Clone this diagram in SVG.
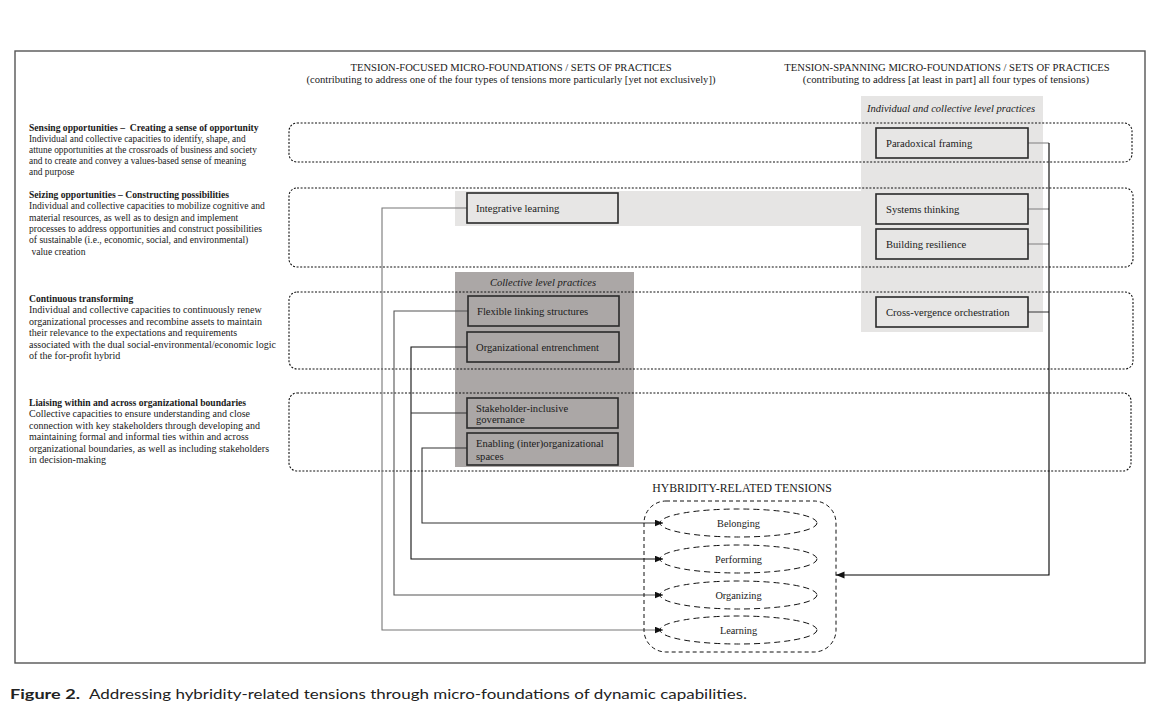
<svg xmlns="http://www.w3.org/2000/svg" width="1161" height="728" viewBox="0 0 1161 728">
<style>
text{font-family:"Liberation Serif","Times New Roman",serif;fill:#1a1a1a}
.lt{font-size:9.6px;white-space:pre}
.lt1{font-size:9.35px;white-space:pre}
.lt3{font-size:10px;white-space:pre}
.lb{font-size:9.6px;font-weight:bold;white-space:pre}
.hd{font-size:10.6px;text-anchor:middle}
.it{font-size:10.5px;font-style:italic;text-anchor:middle}
.bx{font-size:10.6px}
.band{fill:none;stroke:#111;stroke-width:1.1;stroke-dasharray:2 1.6}
.box{stroke:#2a2a2a;stroke-width:1.6}
.lbox{fill:#e7e6e5}
.dbox{fill:#aba7a6}
.ell{fill:none;stroke:#111;stroke-width:1;stroke-dasharray:6 4}
.tl{font-size:10.3px;text-anchor:middle}
.cn{fill:none;stroke-width:1.1}
.cap{font-family:"Lato","Open Sans","Liberation Sans",sans-serif;font-size:14px;fill:#222}
</style>
<defs>
<marker id="ah" markerWidth="9" markerHeight="8" refX="8.5" refY="3.5" orient="auto" markerUnits="userSpaceOnUse">
<path d="M0,0 L8.5,3.5 L0,7 z" fill="#111"/>
</marker>
</defs>
<rect x="0" y="0" width="1161" height="728" fill="#fff"/>
<rect id="frame" x="15" y="51" width="1130" height="612" fill="none" stroke="#555" stroke-width="1.4"/>

<g id="headers">
<text class="hd" x="511" y="71">TENSION-FOCUSED MICRO-FOUNDATIONS / SETS OF PRACTICES</text>
<text class="hd" x="511" y="83">(contributing to address one of the four types of tensions more particularly [yet not exclusively])</text>
<text class="hd" x="947" y="71">TENSION-SPANNING MICRO-FOUNDATIONS / SETS OF PRACTICES</text>
<text class="hd" x="946" y="83" style="font-size:10.8px">(contributing to address [at least in part] all four types of tensions)</text>
</g>

<g id="panels">
<rect id="panel-spanning" x="861" y="96" width="182" height="236" fill="#e6e5e4"/>
<rect id="strip-integrative" x="455" y="191" width="407" height="35" fill="#e6e5e4"/>
<rect id="panel-collective" x="455" y="272" width="179" height="195" fill="#aba7a6"/>
<text class="it" x="951" y="112">Individual and collective level practices</text>
<text class="it" x="543" y="286">Collective level practices</text>
</g>

<g id="row-sensing">
<rect class="band" x="289" y="123" width="843" height="39" rx="8"/>
<text class="lb" x="29" y="131">Sensing opportunities –  Creating a sense of opportunity</text>
<text class="lt1" x="29" y="142">Individual and collective capacities to identify, shape, and</text>
<text class="lt1" x="29" y="153">attune opportunities at the crossroads of business and society</text>
<text class="lt1" x="29" y="164">and to create and convey a values-based sense of meaning</text>
<text class="lt1" x="29" y="175">and purpose</text>
</g>

<g id="row-seizing">
<rect class="band" x="289" y="188" width="844" height="79" rx="8"/>
<text class="lb" x="29" y="198">Seizing opportunities – Constructing possibilities</text>
<text class="lt" x="29" y="209.3">Individual and collective capacities to mobilize cognitive and</text>
<text class="lt" x="29" y="220.6">material resources, as well as to design and implement</text>
<text class="lt" x="29" y="231.9">processes to address opportunities and construct possibilities</text>
<text class="lt" x="29" y="243.2">of sustainable (i.e., economic, social, and environmental)</text>
<text class="lt" x="29" y="254.5"> value creation</text>
</g>

<g id="row-transforming">
<rect class="band" x="289" y="292" width="844" height="77" rx="8"/>
<text class="lb" x="29" y="302">Continuous transforming</text>
<text class="lt3" x="29" y="313.4">Individual and collective capacities to continuously renew</text>
<text class="lt3" x="29" y="324.8">organizational processes and recombine assets to maintain</text>
<text class="lt3" x="29" y="336.2">their relevance to the expectations and requirements</text>
<text class="lt3" x="29" y="347.6">associated with the dual social-environmental/economic logic</text>
<text class="lt3" x="29" y="359">of the for-profit hybrid</text>
</g>

<g id="row-liaising">
<rect class="band" x="289" y="393" width="842" height="78" rx="8"/>
<text class="lb" x="29" y="406">Liaising within and across organizational boundaries</text>
<text class="lt3" x="29" y="417.4">Collective capacities to ensure understanding and close</text>
<text class="lt3" x="29" y="428.8">connection with key stakeholders through developing and</text>
<text class="lt3" x="29" y="440.2">maintaining formal and informal ties within and across</text>
<text class="lt3" x="29" y="451.6">organizational boundaries, as well as including stakeholders</text>
<text class="lt3" x="29" y="463">in decision-making</text>
</g>

<g id="connectors">
<path class="cn" stroke="#777" d="M467,208 H382 V630 H663" marker-end="url(#ah)"/>
<path class="cn" stroke="#555" d="M468,311 H394 V595 H663" marker-end="url(#ah)"/>
<path class="cn" stroke="#111" d="M468,347 H411 V559 H663" marker-end="url(#ah)"/>
<path class="cn" stroke="#333" d="M467,413 H411"/>
<path class="cn" stroke="#333" d="M467,448 H422 V523 H663" marker-end="url(#ah)"/>
<path class="cn" stroke="#888" d="M1028,143 H1049"/>
<path class="cn" stroke="#888" d="M1028,209 H1049"/>
<path class="cn" stroke="#888" d="M1028,244 H1049"/>
<path class="cn" stroke="#444" d="M1028,312 H1049"/>
<path class="cn" stroke="#000" stroke-width="1.3" d="M1049,143 V575 H836" marker-end="url(#ah)"/>
</g>

<g id="node-integrative-learning">
<rect class="box lbox" x="467" y="193" width="151" height="30"/>
<text class="bx" x="476" y="212">Integrative learning</text>
</g>
<g id="node-flexible-linking">
<rect class="box dbox" x="468" y="296" width="151" height="30"/>
<text class="bx" x="477" y="315">Flexible linking structures</text>
</g>
<g id="node-org-entrenchment">
<rect class="box dbox" x="467" y="332" width="152" height="30"/>
<text class="bx" x="476" y="351">Organizational entrenchment</text>
</g>
<g id="node-stakeholder-governance">
<rect class="box dbox" x="467" y="398" width="151" height="30"/>
<text class="bx" x="476" y="411.5">Stakeholder-inclusive</text>
<text class="bx" x="476" y="423">governance</text>
</g>
<g id="node-enabling-spaces">
<rect class="box dbox" x="467" y="433" width="151" height="32"/>
<text class="bx" x="476" y="447">Enabling (inter)organizational</text>
<text class="bx" x="476" y="459.5">spaces</text>
</g>

<g id="node-paradoxical-framing">
<rect class="box lbox" x="876" y="128" width="152" height="30"/>
<text class="bx" x="886" y="147">Paradoxical framing</text>
</g>
<g id="node-systems-thinking">
<rect class="box lbox" x="876" y="194" width="152" height="30"/>
<text class="bx" x="886" y="213">Systems thinking</text>
</g>
<g id="node-building-resilience">
<rect class="box lbox" x="876" y="229" width="152" height="30"/>
<text class="bx" x="886" y="248">Building resilience</text>
</g>
<g id="node-cross-vergence">
<rect class="box lbox" x="876" y="297" width="152" height="30"/>
<text class="bx" x="886" y="316">Cross-vergence orchestration</text>
</g>

<g id="node-tensions">
<text x="742" y="492" style="font-size:11.8px;text-anchor:middle">HYBRIDITY-RELATED TENSIONS</text>
<rect x="644" y="501" width="192" height="151" rx="22" fill="none" stroke="#111" stroke-width="1" stroke-dasharray="4 3"/>
<g id="tension-belonging"><ellipse class="ell" cx="738.5" cy="523" rx="78.5" ry="14"/><text class="tl" x="738.5" y="526.5">Belonging</text></g>
<g id="tension-performing"><ellipse class="ell" cx="738.5" cy="559" rx="78.5" ry="14"/><text class="tl" x="738.5" y="562.5">Performing</text></g>
<g id="tension-organizing"><ellipse class="ell" cx="738.5" cy="595" rx="78.5" ry="14"/><text class="tl" x="738.5" y="598.5">Organizing</text></g>
<g id="tension-learning"><ellipse class="ell" cx="738.5" cy="630" rx="78.5" ry="14"/><text class="tl" x="738.5" y="633.5">Learning</text></g>
</g>

<g id="caption">
<text class="cap" x="10" y="699" font-weight="bold" textLength="70" lengthAdjust="spacingAndGlyphs">Figure 2.</text>
<text class="cap" x="89" y="699" textLength="658" lengthAdjust="spacingAndGlyphs">Addressing hybridity-related tensions through micro-foundations of dynamic capabilities.</text>
</g>
</svg>
